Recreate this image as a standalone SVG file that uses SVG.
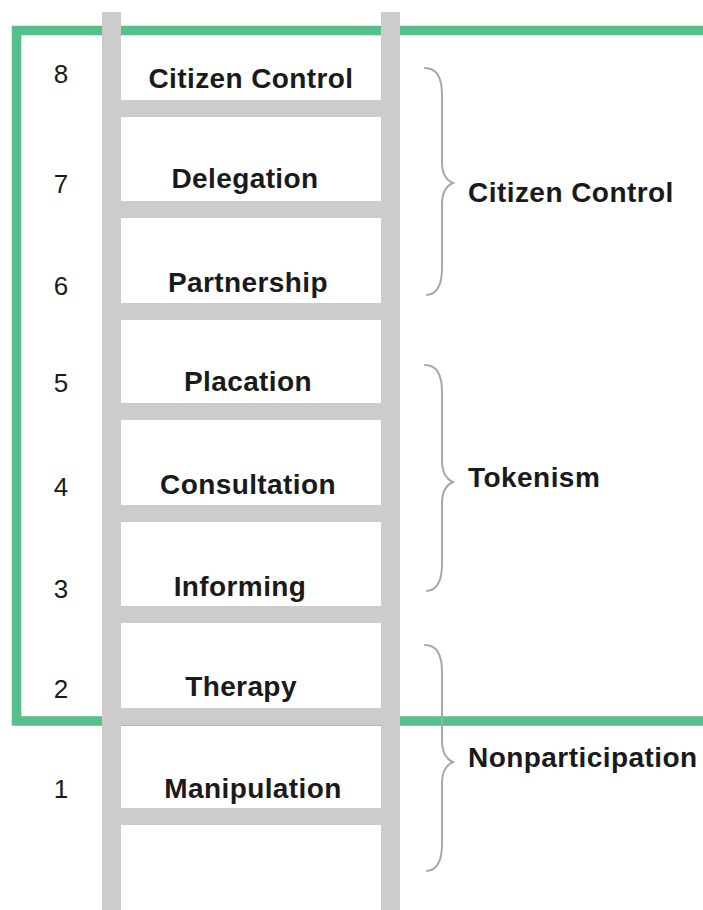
<svg xmlns="http://www.w3.org/2000/svg" width="703" height="910" viewBox="0 0 703 910">
  <style>
    .rail { fill: #cccccc; }
    .rung { fill: #cccccc; }
    .frame { fill: none; stroke: #57bf89; stroke-width: 9.5; }
    .num { font-family: "Liberation Sans", Arial, sans-serif; font-size: 26px; fill: #1a1a1a; text-anchor: middle; }
    .lbl { font-family: "Liberation Sans", Arial, sans-serif; font-size: 28px; font-weight: bold; fill: #1a1a1a; text-anchor: middle; letter-spacing: 0.4px; }
    .cat { font-family: "Liberation Sans", Arial, sans-serif; font-size: 28px; font-weight: bold; fill: #1a1a1a; letter-spacing: 0.45px; }
    .brace { fill: none; stroke: #a8a8a8; stroke-width: 2; stroke-linecap: round; }
  </style>
  <rect width="703" height="910" fill="#ffffff"/>

  <g id="frame">
    <path class="frame" d="M710,30.5 H16.5 V721 H710"/>
  </g>

  <g id="ladder">
    <rect class="rail" x="102" y="12" width="19" height="898"/>
    <rect class="rail" x="381" y="12" width="19" height="898"/>
    <rect class="rung" x="121" y="100" width="260" height="17"/>
    <rect class="rung" x="121" y="201" width="260" height="17"/>
    <rect class="rung" x="121" y="303" width="260" height="17"/>
    <rect class="rung" x="121" y="403" width="260" height="17"/>
    <rect class="rung" x="121" y="505" width="260" height="17"/>
    <rect class="rung" x="121" y="606" width="260" height="17"/>
    <rect class="rung" x="121" y="708" width="260" height="17"/>
    <rect class="rung" x="121" y="808" width="260" height="17"/>
  </g>

  <g id="rung-8"><text class="num" x="61" y="83">8</text><text class="lbl" x="251" y="88">Citizen Control</text></g>
  <g id="rung-7"><text class="num" x="61" y="193">7</text><text class="lbl" x="245" y="188">Delegation</text></g>
  <g id="rung-6"><text class="num" x="61" y="295">6</text><text class="lbl" x="248" y="292">Partnership</text></g>
  <g id="rung-5"><text class="num" x="61" y="392">5</text><text class="lbl" x="248" y="391">Placation</text></g>
  <g id="rung-4"><text class="num" x="61" y="496">4</text><text class="lbl" x="248" y="494">Consultation</text></g>
  <g id="rung-3"><text class="num" x="61" y="598">3</text><text class="lbl" x="240" y="596">Informing</text></g>
  <g id="rung-2"><text class="num" x="61" y="698">2</text><text class="lbl" x="241" y="696">Therapy</text></g>
  <g id="rung-1"><text class="num" x="61" y="798">1</text><text class="lbl" x="253" y="798">Manipulation</text></g>

  <g id="connectors">
    <path class="brace" d="M425,68 C437,68 442,77 442,95 L442,162 C442,174 446,180 453,183 C446,186 442,192 442,204 L442,268 C442,286 437,294 427,295"/>
    <path class="brace" d="M425,365 C437,365 442,374 442,392 L442,460 C442,472 446,479 453,482 C446,485 442,491 442,503 L442,564 C442,582 437,590 427,591"/>
    <path class="brace" d="M425,645 C437,645 442,654 442,672 L442,740 C442,752 446,759 453,762 C446,765 442,771 442,783 L442,844 C442,862 437,870 427,871"/>
  </g>

  <g id="cat-citizen-control"><text class="cat" x="468" y="202">Citizen Control</text></g>
  <g id="cat-tokenism"><text class="cat" x="468" y="487">Tokenism</text></g>
  <g id="cat-nonparticipation"><text class="cat" x="468" y="767">Nonparticipation</text></g>
</svg>
